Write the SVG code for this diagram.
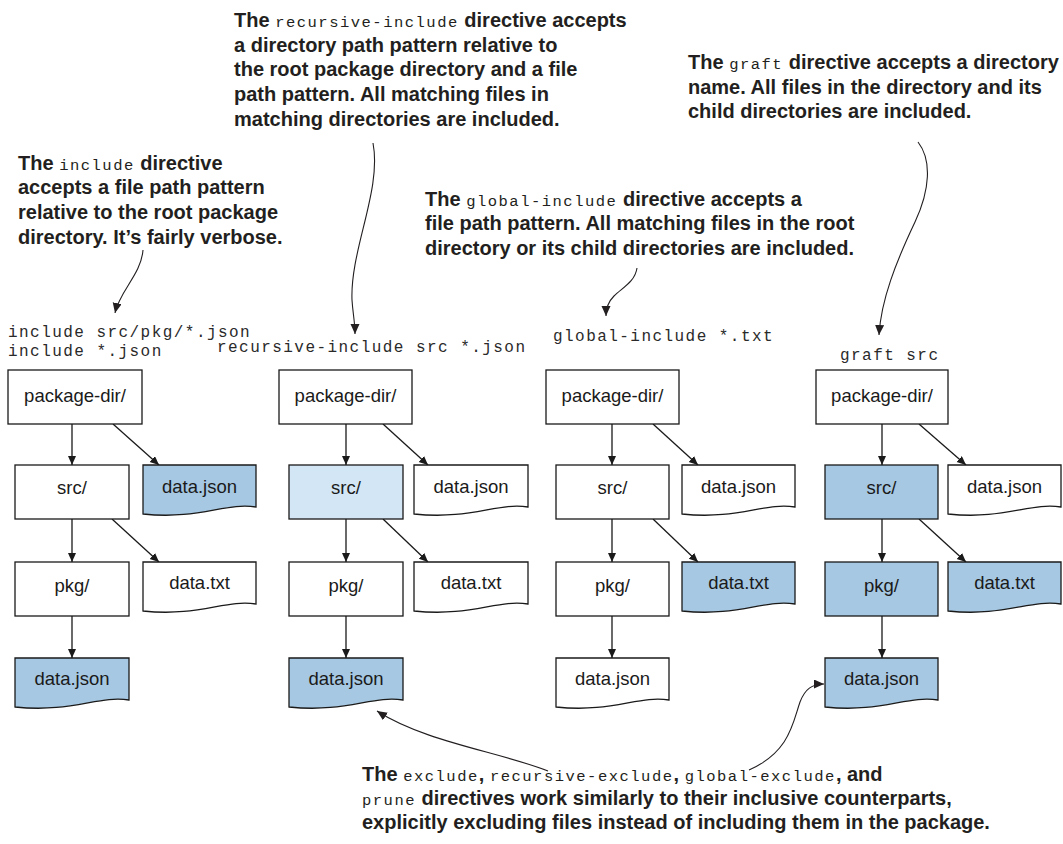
<svg xmlns="http://www.w3.org/2000/svg" width="1063" height="844" viewBox="0 0 1063 844">
<defs>
<style>
.box{fill:#fff;stroke:#1a1a1a;stroke-width:1.3}
.blue{fill:#a6c8e2}
.lblue{fill:#d3e6f5}
.lbl{font-family:"Liberation Sans",Arial,sans-serif;font-size:18.5px;fill:#1a1a1a;text-anchor:middle}
.code{font-family:"Liberation Mono","Courier New",monospace;font-size:16px;letter-spacing:1.45px;fill:#2a2a2a}
.ann{font-family:"Liberation Sans",Arial,sans-serif;font-size:20px;font-weight:bold;fill:#231f20}
.mono{font-family:"Liberation Mono","Courier New",monospace;font-size:15.5px;font-weight:normal;letter-spacing:1.5px}
.edge{stroke:#1a1a1a;stroke-width:1.3;fill:none;marker-end:url(#ah)}
.call{stroke:#231f20;stroke-width:1.1;fill:none;marker-end:url(#ah2)}
</style>
<marker id="ah" markerWidth="10" markerHeight="9" refX="9" refY="4" orient="auto" markerUnits="userSpaceOnUse"><path d="M0,0 L9,4 L0,8 z" fill="#1a1a1a"/></marker>
<marker id="ah2" markerWidth="12" markerHeight="10" refX="10" refY="4.5" orient="auto" markerUnits="userSpaceOnUse"><path d="M0,0 L10,4.5 L0,9 z" fill="#231f20"/></marker>
</defs>
<rect width="1063" height="844" fill="#fff"/>

<g id="annotations">
<text class="ann" x="18" y="170">The <tspan class="mono">include</tspan> directive</text>
<text class="ann" x="18" y="194">accepts a file path pattern</text>
<text class="ann" x="18" y="219">relative to the root package</text>
<text class="ann" x="18" y="244">directory. It’s fairly verbose.</text>

<text class="ann" x="234" y="27">The <tspan class="mono">recursive-include</tspan> directive accepts</text>
<text class="ann" x="234" y="52">a directory path pattern relative to</text>
<text class="ann" x="234" y="76">the root package directory and a file</text>
<text class="ann" x="234" y="101">path pattern. All matching files in</text>
<text class="ann" x="234" y="126">matching directories are included.</text>

<text class="ann" x="425" y="206">The <tspan class="mono">global-include</tspan> directive accepts a</text>
<text class="ann" x="425" y="230">file path pattern. All matching files in the root</text>
<text class="ann" x="425" y="255">directory or its child directories are included.</text>

<text class="ann" x="688" y="69">The <tspan class="mono">graft</tspan> directive accepts a directory</text>
<text class="ann" x="688" y="94">name. All files in the directory and its</text>
<text class="ann" x="688" y="118">child directories are included.</text>

<text class="ann" x="362" y="781">The <tspan class="mono">exclude</tspan>, <tspan class="mono">recursive-exclude</tspan>, <tspan class="mono">global-exclude</tspan>, and</text>
<text class="ann" x="362" y="805"><tspan class="mono">prune</tspan> directives work similarly to their inclusive counterparts,</text>
<text class="ann" x="362" y="829">explicitly excluding files instead of including them in the package.</text>
</g>

<g id="code-labels">
<text class="code" x="8" y="337">include src/pkg/*.json</text>
<text class="code" x="8" y="356">include *.json</text>
<text class="code" x="217" y="352">recursive-include src *.json</text>
<text class="code" x="553" y="341">global-include *.txt</text>
<text class="code" x="840" y="360">graft src</text>
</g>

<g id="connectors">
<path class="edge" d="M72,424 V465"/>
<path class="edge" d="M113,424 L159,465"/>
<path class="edge" d="M72,519 V562"/>
<path class="edge" d="M112,519 L159,562"/>
<path class="edge" d="M72,616 V658"/>

<path class="edge" d="M346,424 V465"/>
<path class="edge" d="M383,424 L428,465"/>
<path class="edge" d="M346,519 V562"/>
<path class="edge" d="M383,519 L428,562"/>
<path class="edge" d="M346,616 V658"/>

<path class="edge" d="M612,424 V465"/>
<path class="edge" d="M653,424 L698,465"/>
<path class="edge" d="M612,519 V562"/>
<path class="edge" d="M653,519 L698,562"/>
<path class="edge" d="M612,616 V658"/>

<path class="edge" d="M882,424 V465"/>
<path class="edge" d="M919,424 L966,465"/>
<path class="edge" d="M882,519 V562"/>
<path class="edge" d="M919,519 L966,562"/>
<path class="edge" d="M882,616 V658"/>

<path class="call" d="M143,250 C141,275 120,290 115,313"/>
<path class="call" d="M373,143 C382,190 350,250 352,300 C353,315 355,322 355,334"/>
<path class="call" d="M637,268 C635,282 622,288 614,296 C608,302 606,308 606,316"/>
<path class="call" d="M918,142 C932,160 930,190 915,222 C896,262 881,300 879,335"/>
<path class="call" d="M548,771 C500,752 425,742 377,711"/>
<path class="call" d="M749,770 C790,752 793,722 800,702 C805,689 812,684 824,684"/>
</g>

<g id="col1">
<g id="c1-pkgdir"><rect class="box" x="8" y="370" width="134" height="54"/><text class="lbl" x="75" y="402">package-dir/</text></g>
<g id="c1-src"><rect class="box" x="15" y="465" width="114" height="54"/><text class="lbl" x="72" y="494">src/</text></g>
<g id="c1-datajson"><path class="box blue" d="M143,465 H256 V507 C226,502 199,520 143,514 Z"/><text class="lbl" x="199.5" y="493">data.json</text></g>
<g id="c1-pkg"><rect class="box" x="15" y="562" width="114" height="54"/><text class="lbl" x="72" y="592">pkg/</text></g>
<g id="c1-datatxt"><path class="box" d="M143,562 H256 V604 C226,599 199,617 143,611 Z"/><text class="lbl" x="199.5" y="589">data.txt</text></g>
<g id="c1-pkgjson"><path class="box blue" d="M15,658 H129 V700 C99,695 72,713 15,707 Z"/><text class="lbl" x="72" y="685">data.json</text></g>
</g>

<g id="col2">
<g id="c2-pkgdir"><rect class="box" x="279" y="370" width="133" height="54"/><text class="lbl" x="345.5" y="402">package-dir/</text></g>
<g id="c2-src"><rect class="box lblue" x="289" y="465" width="114" height="54"/><text class="lbl" x="346" y="494">src/</text></g>
<g id="c2-datajson"><path class="box" d="M414,465 H528 V507 C498,502 471,520 414,514 Z"/><text class="lbl" x="471" y="493">data.json</text></g>
<g id="c2-pkg"><rect class="box" x="289" y="562" width="114" height="54"/><text class="lbl" x="346" y="592">pkg/</text></g>
<g id="c2-datatxt"><path class="box" d="M414,562 H528 V604 C498,599 471,617 414,611 Z"/><text class="lbl" x="471" y="589">data.txt</text></g>
<g id="c2-pkgjson"><path class="box blue" d="M289,658 H403 V700 C373,695 346,713 289,707 Z"/><text class="lbl" x="346" y="685">data.json</text></g>
</g>

<g id="col3">
<g id="c3-pkgdir"><rect class="box" x="546" y="370" width="133" height="54"/><text class="lbl" x="612.5" y="402">package-dir/</text></g>
<g id="c3-src"><rect class="box" x="556" y="465" width="113" height="54"/><text class="lbl" x="612.5" y="494">src/</text></g>
<g id="c3-datajson"><path class="box" d="M682,465 H795 V507 C765,502 738,520 682,514 Z"/><text class="lbl" x="738.5" y="493">data.json</text></g>
<g id="c3-pkg"><rect class="box" x="556" y="562" width="113" height="54"/><text class="lbl" x="612.5" y="592">pkg/</text></g>
<g id="c3-datatxt"><path class="box blue" d="M682,562 H795 V604 C765,599 738,617 682,611 Z"/><text class="lbl" x="738.5" y="589">data.txt</text></g>
<g id="c3-pkgjson"><path class="box" d="M556,658 H669 V700 C639,695 612,713 556,707 Z"/><text class="lbl" x="612.5" y="685">data.json</text></g>
</g>

<g id="col4">
<g id="c4-pkgdir"><rect class="box" x="816" y="370" width="132" height="54"/><text class="lbl" x="882" y="402">package-dir/</text></g>
<g id="c4-src"><rect class="box blue" x="825" y="465" width="113" height="54"/><text class="lbl" x="881.5" y="494">src/</text></g>
<g id="c4-datajson"><path class="box" d="M948,465 H1061 V507 C1031,502 1004,520 948,514 Z"/><text class="lbl" x="1004.5" y="493">data.json</text></g>
<g id="c4-pkg"><rect class="box blue" x="825" y="562" width="113" height="54"/><text class="lbl" x="881.5" y="592">pkg/</text></g>
<g id="c4-datatxt"><path class="box blue" d="M948,562 H1061 V604 C1031,599 1004,617 948,611 Z"/><text class="lbl" x="1004.5" y="589">data.txt</text></g>
<g id="c4-pkgjson"><path class="box blue" d="M825,658 H938 V700 C908,695 881,713 825,707 Z"/><text class="lbl" x="881.5" y="685">data.json</text></g>
</g>
</svg>
